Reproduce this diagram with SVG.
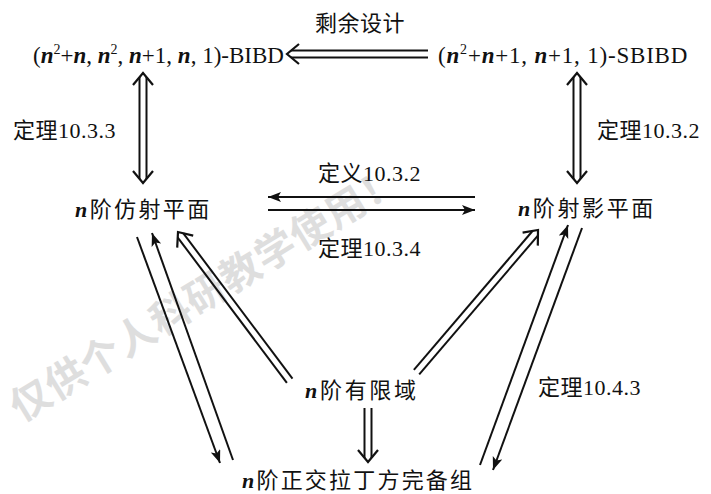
<svg xmlns="http://www.w3.org/2000/svg" width="711" height="494" viewBox="0 0 711 494">
<style>
text{font-family:"Liberation Serif","Noto Sans CJK SC",serif;fill:#111;}
.node{font-size:22px;}
.math{font-size:23px;}
.lbl{font-size:22px;letter-spacing:0.5px;}
.i{font-style:italic;font-weight:bold;}
.sup{font-size:14px;}
.wm{font-family:"Noto Sans CJK SC",sans-serif;font-size:40px;font-weight:bold;fill:#dedede;}
.ln{stroke:#111;stroke-width:2;fill:none;}
.hd{stroke:#111;stroke-width:2.2;fill:none;stroke-linejoin:miter;}
</style>
<defs>
<marker id="ah" markerUnits="userSpaceOnUse" markerWidth="14" markerHeight="11" refX="13" refY="5" orient="auto">
<path d="M0,0 L13,5 L0,10 L3,5 z" fill="#111"/>
</marker>
<path id="chev" d="M12,-10 L0,0 L12,10"/>
</defs>
<rect width="711" height="494" fill="#fff"/>
<g id="watermark">
<text class="wm" transform="translate(206,293) rotate(-31.5)" x="0" y="14" text-anchor="middle" letter-spacing="1">仅供个人科研教学使用！</text>
</g>
<g id="connectors">
<g transform="translate(287,54)">
<line class="ln" x1="4" y1="-3.5" x2="141" y2="-3.5"/>
<line class="ln" x1="4" y1="3.5" x2="141" y2="3.5"/>
<use href="#chev" class="hd"/>
</g>
<g transform="translate(143,73) rotate(90)">
<line class="ln" x1="4" y1="-3.5" x2="106" y2="-3.5"/>
<line class="ln" x1="4" y1="3.5" x2="106" y2="3.5"/>
<use href="#chev" class="hd"/>
<use href="#chev" class="hd" transform="translate(110,0) scale(-1,1)"/>
</g>
<g transform="translate(577,73) rotate(90)">
<line class="ln" x1="4" y1="-3.5" x2="106" y2="-3.5"/>
<line class="ln" x1="4" y1="3.5" x2="106" y2="3.5"/>
<use href="#chev" class="hd"/>
<use href="#chev" class="hd" transform="translate(110,0) scale(-1,1)"/>
</g>
<g transform="translate(178,232) rotate(53.1)">
<line class="ln" x1="4" y1="-3.5" x2="186" y2="-3.5"/>
<line class="ln" x1="4" y1="3.5" x2="186" y2="3.5"/>
<use href="#chev" class="hd"/>
</g>
<g transform="translate(538,230) rotate(130.5)">
<line class="ln" x1="4" y1="-3.5" x2="187" y2="-3.5"/>
<line class="ln" x1="4" y1="3.5" x2="187" y2="3.5"/>
<use href="#chev" class="hd"/>
</g>
<g transform="translate(368,462) rotate(-90)">
<line class="ln" x1="4" y1="-3.5" x2="54" y2="-3.5"/>
<line class="ln" x1="4" y1="3.5" x2="54" y2="3.5"/>
<use href="#chev" class="hd"/>
</g>
<line class="ln" x1="475" y1="197" x2="268" y2="197" marker-end="url(#ah)"/>
<line class="ln" x1="268" y1="210" x2="475" y2="210" marker-end="url(#ah)"/>
<line class="ln" x1="137" y1="237" x2="220" y2="463" marker-end="url(#ah)"/>
<line class="ln" x1="233" y1="460" x2="152" y2="233" marker-end="url(#ah)"/>
<line class="ln" x1="480" y1="465" x2="568" y2="225" marker-end="url(#ah)"/>
<line class="ln" x1="582" y1="228" x2="493" y2="470" marker-end="url(#ah)"/>
</g>
<g id="labels">
<text class="lbl" x="315" y="31" letter-spacing="2.5">剩余设计</text>
<text class="lbl" x="13" y="138">定理10.3.3</text>
<text class="lbl" x="597" y="138">定理10.3.2</text>
<text class="lbl" x="318" y="181">定义10.3.2</text>
<text class="lbl" x="318" y="256">定理10.3.4</text>
<text class="lbl" x="538" y="395">定理10.4.3</text>
</g>
<g id="node-bibd">
<text class="math" x="33" y="63">(<tspan class="i">n</tspan><tspan class="sup" dy="-9">2</tspan><tspan dy="9">+</tspan><tspan class="i">n</tspan>, <tspan class="i">n</tspan><tspan class="sup" dy="-9">2</tspan><tspan dy="9">, </tspan><tspan class="i">n</tspan>+1, <tspan class="i">n</tspan>, 1)-BIBD</text>
</g>
<g id="node-sbibd">
<text class="math" x="438" y="63" letter-spacing="0.8">(<tspan class="i">n</tspan><tspan class="sup" dy="-9">2</tspan><tspan dy="9">+</tspan><tspan class="i">n</tspan>+1, <tspan class="i">n</tspan>+1, 1)-SBIBD</text>
</g>
<g id="node-affine">
<text class="node" x="75" y="217" letter-spacing="2.4"><tspan class="i">n</tspan>阶仿射平面</text>
</g>
<g id="node-projective">
<text class="node" x="518" y="216" letter-spacing="2.6"><tspan class="i">n</tspan>阶射影平面</text>
</g>
<g id="node-field">
<text class="node" x="305" y="398" letter-spacing="2.7"><tspan class="i">n</tspan>阶有限域</text>
</g>
<g id="node-latin">
<text class="node" x="242" y="488" letter-spacing="2.2"><tspan class="i">n</tspan>阶正交拉丁方完备组</text>
</g>
</svg>
